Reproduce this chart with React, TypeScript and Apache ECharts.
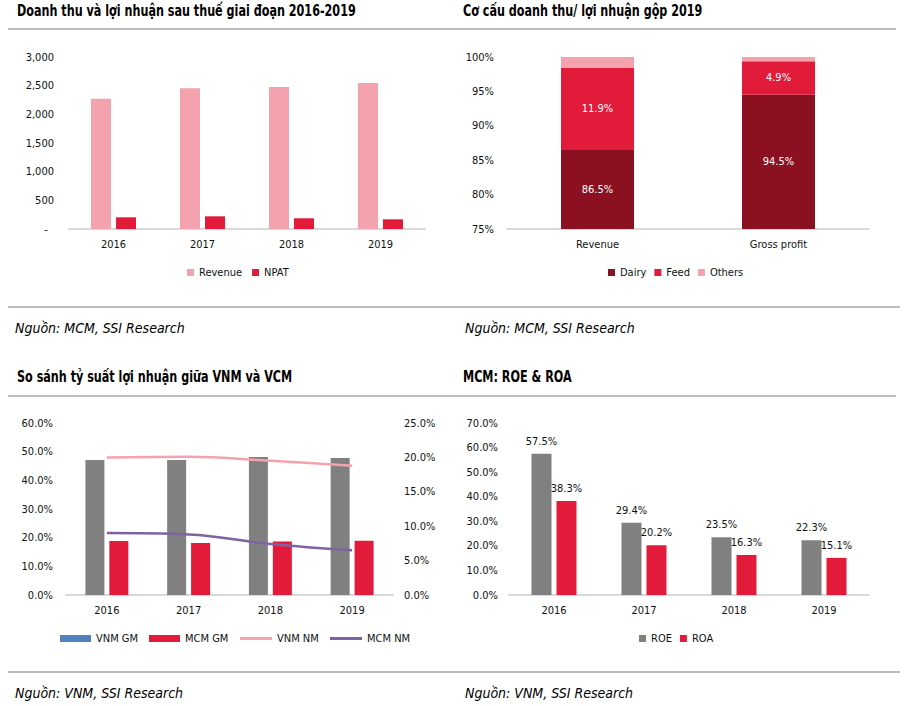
import React, { useEffect, useRef } from "react";
import * as echarts from "echarts";

const years = ["2016", "2017", "2018", "2019"];
const revenue = [2273, 2454, 2477, 2547];
const npat = [204, 221, 187, 169];

const structCategories = ["Revenue", "Gross profit"];
const dairy = [86.5, 94.5];
const feed = [11.9, 4.9];
const others = [1.6, 0.6];

const vnmGM = [47.1, 47.1, 48.1, 47.8];
const mcmGM = [18.8, 18.1, 18.7, 18.9];
const vnmNM = [20.0, 20.1, 19.5, 18.8];
const mcmNM = [9.0, 8.8, 7.4, 6.5];

const roe = [57.5, 29.4, 23.5, 22.3];
const roa = [38.3, 20.2, 16.3, 15.1];

const titles = [
  "Doanh thu và lợi nhuận sau thuế giai đoạn 2016-2019",
  "Cơ cấu doanh thu/ lợi nhuận gộp 2019",
  "So sánh tỷ suất lợi nhuận giữa VNM và VCM",
  "MCM: ROE & ROA",
];
const sources = ["Nguồn: MCM, SSI Research", "Nguồn: VNM, SSI Research"];

const FONT = '"Liberation Sans Narrow", "Arial Narrow", "DejaVu Sans Condensed", "Liberation Sans", sans-serif';
const PINK = "#F4A2AD";
const RED = "#E31B3B";
const DARK = "#8A1022";
const GREY = "#808080";
const AXIS = "#D9D9D9";
const TXT = "#111111";

export default function App() {
  const ref = useRef<HTMLDivElement>(null);
  useEffect(() => {
    if (!ref.current) return;
    const chart = echarts.init(ref.current, null, { renderer: "svg" });
    const axisLabel = { color: TXT, fontSize: 11, fontFamily: FONT };
    const xBase = (gridIndex: number, data: string[]) => ({
      type: "category",
      gridIndex,
      data,
      axisLine: { lineStyle: { color: AXIS, width: 2 } },
      axisTick: { show: false },
      axisLabel: { ...axisLabel, margin: 10 },
    });
    const yBase = (gridIndex: number, min: number, max: number, interval: number, margin: number, fmt: (v: number) => string, position = "left") => ({
      type: "value",
      gridIndex,
      min,
      max,
      interval,
      position,
      axisLine: { show: false },
      axisTick: { show: false },
      splitLine: { show: false },
      axisLabel: { ...axisLabel, margin, formatter: fmt },
    });
    const pct1 = (v: number) => v.toFixed(1) + "%";
    const legendBase = { orient: "horizontal", padding: 0, textStyle: { color: TXT, fontSize: 11, fontFamily: FONT } };

    const titleGraphics = [
      { x: 17, y: 11, t: titles[0] },
      { x: 463, y: 11, t: titles[1] },
      { x: 17, y: 377, t: titles[2] },
      { x: 463, y: 377, t: titles[3] },
    ].map((d) => ({
      type: "text",
      x: d.x,
      y: d.y,
      scaleX: 0.83,
      style: { text: d.t, fill: "#000", font: `bold 15px ${FONT}`, textVerticalAlign: "middle" },
    }));
    const sourceGraphics = [
      { x: 15, y: 328, t: sources[0] },
      { x: 465, y: 328, t: sources[0] },
      { x: 15, y: 693, t: sources[1] },
      { x: 465, y: 693, t: sources[1] },
    ].map((d) => ({
      type: "text",
      x: d.x,
      y: d.y,
      style: { text: d.t, fill: "#000", font: `italic 14px ${FONT}`, textVerticalAlign: "middle" },
    }));
    const lines = [
      { y: 29, x1: 8, x2: 896 },
      { y: 396, x1: 8, x2: 896 },
      { y: 307, x1: 8, x2: 900 },
      { y: 672, x1: 8, x2: 900 },
    ].map((d) => ({
      type: "line",
      shape: { x1: d.x1, y1: d.y, x2: d.x2, y2: d.y },
      style: { stroke: "#A6A6A6", lineWidth: 1.5 },
    }));

    chart.setOption({
      animation: false,
      backgroundColor: "#fff",
      textStyle: { fontFamily: FONT },
      grid: [
        { left: 69, right: 482, top: 57, bottom: 477 },
        { left: 507, right: 38, top: 57, bottom: 477 },
        { left: 66, right: 514, top: 423, bottom: 111 },
        { left: 509, right: 38, top: 423, bottom: 111 },
      ],
      xAxis: [xBase(0, years), xBase(1, structCategories), xBase(2, years), xBase(3, years)],
      yAxis: [
        yBase(0, 0, 3000, 500, 15, (v: number) => (v === 0 ? "-  " : v.toLocaleString("en-US"))),
        { ...yBase(1, 75, 100, 5, 13, (v: number) => v + "%"), startValue: 75 },
        yBase(2, 0, 60, 10, 13, pct1),
        yBase(2, 0, 25, 5, 11, pct1, "right"),
        yBase(3, 0, 70, 10, 11, pct1),
      ],
      legend: [
        { ...legendBase, left: 187, top: 267, itemWidth: 7, itemHeight: 7, itemGap: 10, icon: "rect", data: ["Revenue", "NPAT"] },
        { ...legendBase, left: 608, top: 267, itemWidth: 7, itemHeight: 7, itemGap: 8, icon: "rect", data: ["Dairy", "Feed", "Others"] },
        { ...legendBase, left: 60, top: 633, itemWidth: 31, itemHeight: 7, icon: "rect", data: [{ name: "VNM GM", itemStyle: { color: "#4F81BD" } }] },
        { ...legendBase, left: 149, top: 633, itemWidth: 31, itemHeight: 7, icon: "rect", data: ["MCM GM"] },
        { ...legendBase, left: 240, top: 633, itemWidth: 32, itemHeight: 3, icon: "rect", data: ["VNM NM"] },
        { ...legendBase, left: 330, top: 633, itemWidth: 32, itemHeight: 3, icon: "rect", data: ["MCM NM"] },
        { ...legendBase, left: 639, top: 633, itemWidth: 7, itemHeight: 7, itemGap: 8, icon: "rect", data: ["ROE", "ROA"] },
      ],
      graphic: [...lines, ...titleGraphics, ...sourceGraphics],
      series: [
        { name: "Revenue", type: "bar", xAxisIndex: 0, yAxisIndex: 0, data: revenue, barWidth: 20, barGap: "25%", itemStyle: { color: PINK } },
        { name: "NPAT", type: "bar", xAxisIndex: 0, yAxisIndex: 0, data: npat, barWidth: 20, barGap: "25%", itemStyle: { color: RED } },
        {
          name: "Dairy", type: "bar", stack: "s", xAxisIndex: 1, yAxisIndex: 1, data: dairy, barWidth: 73, itemStyle: { color: DARK },
          label: { show: true, position: "inside", color: "#fff", fontSize: 11, fontFamily: FONT, formatter: (p: any) => p.value + "%" },
        },
        {
          name: "Feed", type: "bar", stack: "s", xAxisIndex: 1, yAxisIndex: 1, data: feed, barWidth: 73, itemStyle: { color: RED },
          label: { show: true, position: "inside", color: "#fff", fontSize: 11, fontFamily: FONT, formatter: (p: any) => p.value + "%" },
        },
        { name: "Others", type: "bar", stack: "s", xAxisIndex: 1, yAxisIndex: 1, data: others, barWidth: 73, itemStyle: { color: PINK } },
        { name: "VNM GM", type: "bar", xAxisIndex: 2, yAxisIndex: 2, data: vnmGM, barWidth: 19, barGap: "26%", itemStyle: { color: GREY } },
        { name: "MCM GM", type: "bar", xAxisIndex: 2, yAxisIndex: 2, data: mcmGM, barWidth: 19, barGap: "26%", itemStyle: { color: RED } },
        { name: "VNM NM", type: "line", xAxisIndex: 2, yAxisIndex: 3, data: vnmNM, smooth: 0.4, symbol: "none", lineStyle: { color: PINK, width: 2.5 }, itemStyle: { color: PINK } },
        { name: "MCM NM", type: "line", xAxisIndex: 2, yAxisIndex: 3, data: mcmNM, smooth: 0.4, symbol: "none", lineStyle: { color: "#7F62A1", width: 2.5 }, itemStyle: { color: "#7F62A1" } },
        {
          name: "ROE", type: "bar", xAxisIndex: 3, yAxisIndex: 4, data: roe, barWidth: 20, barGap: "25%", itemStyle: { color: GREY },
          label: { show: true, position: "top", distance: 7, color: TXT, fontSize: 11, fontFamily: FONT, formatter: (p: any) => p.value.toFixed(1) + "%" },
        },
        {
          name: "ROA", type: "bar", xAxisIndex: 3, yAxisIndex: 4, data: roa, barWidth: 20, barGap: "25%", itemStyle: { color: RED },
          label: { show: true, position: "top", distance: 7, color: TXT, fontSize: 11, fontFamily: FONT, formatter: (p: any) => p.value.toFixed(1) + "%" },
        },
      ],
    });
    return () => chart.dispose();
  }, []);
  return <div ref={ref} style={{ position: "absolute", left: 0, top: 0, width: 907, height: 706 }} />;
}
